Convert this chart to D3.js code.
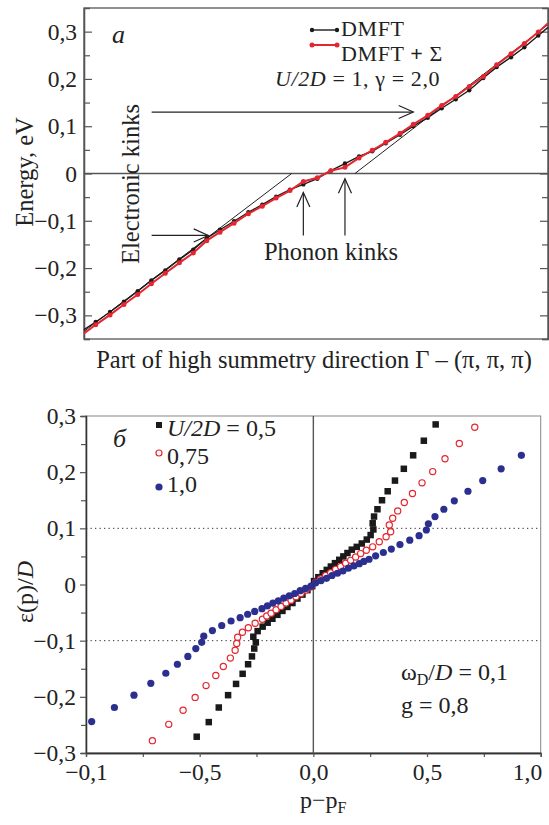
<!DOCTYPE html>
<html>
<head>
<meta charset="utf-8">
<script src="https://cdn.jsdelivr.net/npm/d3@7"></script>
<style>
body { margin: 0; background: #fff; }
text { font-family: "Liberation Serif", "Times New Roman", serif; fill: #222; }
</style>
</head>
<body>
<script>
// panel a: dispersion along the symmetry direction
var kX = [0, 0.83, 1.85, 2.84, 3.82, 4.79, 5.78, 6.78, 7.77, 8.73, 9.67, 10.67, 11.69, 12.68, 13.66, 14.65, 15.6, 16.59, 17.55, 18.56, 19.56, 20.5, 21.46, 22.48, 23.42, 24.45, 25.44, 26.44, 27.4, 28.4, 29.35, 30.37, 31.32, 32.31, 33];
var redE = [-0.338, -0.320, -0.299, -0.277, -0.256, -0.233, -0.211, -0.189, -0.168, -0.142, -0.124, -0.105, -0.085, -0.069, -0.052, -0.036, -0.017, -0.009, 0.006, 0.013, 0.033, 0.049, 0.066, 0.085, 0.104, 0.123, 0.144, 0.163, 0.184, 0.205, 0.230, 0.253, 0.275, 0.299, 0.318];
var blackE = [-0.330, -0.314, -0.293, -0.271, -0.249, -0.226, -0.205, -0.182, -0.161, -0.137, -0.119, -0.101, -0.082, -0.066, -0.049, -0.034, -0.023, -0.011, 0.006, 0.021, 0.036, 0.047, 0.064, 0.082, 0.100, 0.118, 0.138, 0.157, 0.176, 0.202, 0.225, 0.246, 0.267, 0.292, 0.309];
// straight guide lines (bare electron band)
var guide1 = [[0, -0.334], [14.77, 0]];
var guide2 = [[19.27, 0], [33, 0.315]];
var topTicks = [-0.3, -0.2, -0.1, 0, 0.1, 0.2, 0.3];
var topTickLabels = ["\u22120,3", "\u22120,2", "\u22120,1", "0", "0,1", "0,2", "0,3"];

// panel b: renormalized dispersion for three U/2D values
var sqX = [-0.513, -0.460, -0.416, -0.375, -0.340, -0.311, -0.287, -0.270, -0.260, -0.253, -0.264, -0.245, -0.223, -0.201, -0.180, -0.158, -0.136, -0.114, -0.092, -0.070, -0.048, -0.026, -0.005,
  0.003, 0.022, 0.041, 0.059, 0.077, 0.095, 0.114, 0.132, 0.150, 0.169, 0.191, 0.213, 0.235, 0.252, 0.264, 0.261, 0.267, 0.282, 0.302, 0.327, 0.359, 0.398, 0.439, 0.486, 0.538];
var sqY = [-0.271, -0.245, -0.219, -0.197, -0.177, -0.159, -0.142, -0.128, -0.114, -0.103, -0.093, -0.083, -0.075, -0.068, -0.061, -0.054, -0.047, -0.040, -0.033, -0.025, -0.018, -0.010, -0.003,
  0.006, 0.013, 0.020, 0.026, 0.032, 0.038, 0.044, 0.050, 0.056, 0.062, 0.067, 0.073, 0.080, 0.088, 0.098, 0.109, 0.121, 0.134, 0.150, 0.166, 0.185, 0.206, 0.230, 0.256, 0.285];
var ciX = [-0.708, -0.636, -0.573, -0.520, -0.472, -0.429, -0.396, -0.365, -0.344, -0.337, -0.333, -0.312, -0.286, -0.256, -0.224, -0.205, -0.186, -0.164, -0.142, -0.120, -0.098, -0.076, -0.054, -0.032, -0.010,
  0.010, 0.032, 0.054, 0.076, 0.098, 0.120, 0.142, 0.164, 0.186, 0.208, 0.233, 0.261, 0.290, 0.320, 0.340, 0.334, 0.349, 0.371, 0.400, 0.436, 0.478, 0.525, 0.579, 0.642, 0.710];
var ciY = [-0.278, -0.249, -0.224, -0.201, -0.180, -0.162, -0.146, -0.131, -0.117, -0.105, -0.094, -0.085, -0.077, -0.069, -0.062, -0.056, -0.051, -0.045, -0.039, -0.033, -0.028, -0.022, -0.016, -0.010, -0.004,
  0.004, 0.010, 0.016, 0.021, 0.027, 0.032, 0.038, 0.043, 0.049, 0.055, 0.061, 0.067, 0.076, 0.085, 0.094, 0.106, 0.118, 0.131, 0.146, 0.162, 0.181, 0.201, 0.224, 0.251, 0.280];
var dotX = [-0.975, -0.875, -0.789, -0.715, -0.649, -0.598, -0.552, -0.517, -0.491, -0.482, -0.444, -0.403, -0.362, -0.322, -0.289, -0.258, -0.226, -0.202, -0.178, -0.154, -0.130, -0.106, -0.082, -0.058, -0.034, -0.010,
  0.010, 0.034, 0.058, 0.082, 0.106, 0.130, 0.154, 0.178, 0.202, 0.222, 0.245, 0.274, 0.308, 0.343, 0.381, 0.424, 0.465, 0.497, 0.506, 0.535, 0.574, 0.620, 0.680, 0.745, 0.826, 0.915];
var dotY = [-0.244, -0.219, -0.197, -0.176, -0.158, -0.142, -0.128, -0.114, -0.103, -0.092, -0.082, -0.073, -0.065, -0.059, -0.053, -0.048, -0.043, -0.038, -0.033, -0.029, -0.024, -0.020, -0.016, -0.011, -0.007, -0.003,
  0.003, 0.007, 0.011, 0.016, 0.020, 0.024, 0.029, 0.033, 0.037, 0.041, 0.045, 0.051, 0.057, 0.063, 0.071, 0.079, 0.087, 0.097, 0.108, 0.121, 0.134, 0.149, 0.166, 0.185, 0.206, 0.230];
var botYTicks = [-0.3, -0.2, -0.1, 0, 0.1, 0.2, 0.3];
var botYLabels = ["\u22120,3", "\u22120,2", "\u22120,1", "0", "0,1", "0,2", "0,3"];
var botXTicks = [-1, -0.5, 0, 0.5, 1];
var botXLabels = ["\u22120,1", "\u22120,5", "0,0", "0,5", "1,0"];

var frameColor = "#555";
var redColor = "#e3262f";
var blueColor = "#2b2f8f";
var fs = "24.5px";
var legFs = "22px";

var svg = d3.select("body").append("svg")
  .attr("width", 549)
  .attr("height", 825);

function zip(xs, ys) {
  return xs.map(function(x, i) { return [x, ys[i]]; });
}

function styleAxis(g) {
  g.select(".domain").attr("stroke", frameColor).attr("stroke-width", 1.3);
  g.selectAll(".tick line").attr("stroke", frameColor).attr("stroke-width", 1.2);
  g.selectAll(".tick text").style("font-size", "23.5px").attr("fill", "#222")
    .style("font-family", "Liberation Serif");
}

// ================= panel a =================
var xA = d3.scaleLinear().domain([0, 33]).range([84, 548]);
var yA = d3.scaleLinear().domain([-0.35, 0.35]).range([339, 8]);

var gA = svg.append("g");

// frame
gA.append("rect")
  .attr("x", xA(0)).attr("y", yA(0.35))
  .attr("width", xA(33) - xA(0)).attr("height", yA(-0.35) - yA(0.35))
  .attr("fill", "none").attr("stroke", frameColor).attr("stroke-width", 1.3);

// minor ticks (inward)
var minorA = [-0.35, -0.25, -0.15, -0.05, 0.05, 0.15, 0.25];
gA.append("g").attr("transform", "translate(" + xA(0) + ",0)")
  .call(d3.axisLeft(yA).tickValues(minorA).tickSize(-6).tickFormat(""))
  .call(styleAxis);
gA.append("g").attr("transform", "translate(" + xA(33) + ",0)")
  .call(d3.axisRight(yA).tickValues(minorA).tickSize(-6).tickFormat(""))
  .call(styleAxis);
// major ticks
gA.append("g").attr("transform", "translate(" + xA(0) + ",0)")
  .call(d3.axisLeft(yA).tickValues(topTicks).tickSizeInner(-8).tickSizeOuter(0).tickPadding(7)
    .tickFormat(function(d, i) { return topTickLabels[i]; }))
  .call(styleAxis);
gA.append("g").attr("transform", "translate(" + xA(33) + ",0)")
  .call(d3.axisRight(yA).tickValues(topTicks).tickSizeInner(-8).tickSizeOuter(0).tickFormat(""))
  .call(styleAxis);

// zero line
gA.append("line")
  .attr("x1", xA(0)).attr("x2", xA(33))
  .attr("y1", yA(0)).attr("y2", yA(0))
  .attr("stroke", frameColor).attr("stroke-width", 1.3);

var lineA = d3.line().x(function(d) { return xA(d[0]); }).y(function(d) { return yA(d[1]); });

// guide lines
[guide1, guide2].forEach(function(g) {
  gA.append("path").attr("d", lineA(g))
    .attr("fill", "none").attr("stroke", "#222").attr("stroke-width", 1);
});

var blackPts = zip(kX, blackE);
var redPts = zip(kX, redE);

gA.append("path").attr("d", lineA(blackPts))
  .attr("fill", "none").attr("stroke", "#1a1a1a").attr("stroke-width", 1.4);
gA.selectAll(".bdot").data(blackPts.slice(1, -1)).enter().append("circle")
  .attr("class", "bdot")
  .attr("cx", function(d) { return xA(d[0]); })
  .attr("cy", function(d) { return yA(d[1]); })
  .attr("r", 2.2).attr("fill", "#1a1a1a");

gA.append("path").attr("d", lineA(redPts))
  .attr("fill", "none").attr("stroke", redColor).attr("stroke-width", 2);
gA.selectAll(".rdot").data(redPts.slice(1, -1)).enter().append("circle")
  .attr("class", "rdot")
  .attr("cx", function(d) { return xA(d[0]); })
  .attr("cy", function(d) { return yA(d[1]); })
  .attr("r", 2.5).attr("fill", redColor);

// arrows
function arrow(g, x1, y1, x2, y2) {
  var ang = Math.atan2(y2 - y1, x2 - x1), len = 16, half = 0.42;
  g.append("line").attr("x1", x1).attr("y1", y1).attr("x2", x2).attr("y2", y2)
    .attr("stroke", "#222").attr("stroke-width", 1.2);
  g.append("path")
    .attr("d", "M" + (x2 - len * Math.cos(ang - half)) + "," + (y2 - len * Math.sin(ang - half)) +
      "L" + x2 + "," + y2 +
      "L" + (x2 - len * Math.cos(ang + half)) + "," + (y2 - len * Math.sin(ang + half)))
    .attr("fill", "none").attr("stroke", "#222").attr("stroke-width", 1.2);
}
arrow(gA, xA(4.81), yA(0.13), xA(23.42), yA(0.13));
arrow(gA, xA(4.81), yA(-0.131), xA(8.84), yA(-0.131));
arrow(gA, xA(15.6), yA(-0.131), xA(15.6), yA(-0.040));
arrow(gA, xA(18.56), yA(-0.131), xA(18.56), yA(-0.011));

// texts
gA.append("text").attr("x", 112).attr("y", 43)
  .style("font-size", "26px").style("font-style", "italic").text("а");

// legend
var legA = gA.append("g");
[[30, "#1a1a1a", 1.4, 2.2], [45, redColor, 2, 2.5]].forEach(function(s) {
  legA.append("line").attr("x1", 312).attr("x2", 337).attr("y1", s[0]).attr("y2", s[0])
    .attr("stroke", s[1]).attr("stroke-width", s[2]);
  [312, 337].forEach(function(cx) {
    legA.append("circle").attr("cx", cx).attr("cy", s[0]).attr("r", s[3]).attr("fill", s[1]);
  });
});
legA.append("text").attr("x", 341).attr("y", 36).style("font-size", legFs)
  .style("letter-spacing", "0.6px").text("DMFT");
var t2 = legA.append("text").attr("x", 341).attr("y", 61).style("font-size", legFs)
  .style("letter-spacing", "0.6px");
t2.append("tspan").text("DMFT ");
t2.append("tspan").style("font-weight", "bold").text("+");
t2.append("tspan").text(" \u03a3");
var t3 = legA.append("text").attr("x", 275).attr("y", 86).style("font-size", legFs)
  .style("letter-spacing", "0.6px");
t3.append("tspan").style("font-style", "italic").text("U/2D");
t3.append("tspan").text(" = 1, \u03b3 = 2,0");

gA.append("text")
  .attr("transform", "translate(139,184) rotate(-90)")
  .attr("text-anchor", "middle").style("font-size", fs).text("Electronic kinks");
gA.append("text").attr("x", 331).attr("y", 260)
  .attr("text-anchor", "middle").style("font-size", fs).text("Phonon kinks");

gA.append("text").attr("x", 314).attr("y", 368)
  .attr("text-anchor", "middle").style("font-size", fs)
  .text("Part of high summetry direction \u0393 \u2013 (\u03c0, \u03c0, \u03c0)");
gA.append("text")
  .attr("transform", "translate(33,172) rotate(-90)")
  .attr("text-anchor", "middle").style("font-size", fs).text("Energy, eV");

// ================= panel b =================
var xB = d3.scaleLinear().domain([-1, 1]).range([86, 540.7]);
var yB = d3.scaleLinear().domain([-0.3, 0.3]).range([753, 416]);
var gB = svg.append("g");

gB.append("rect")
  .attr("x", xB(-1)).attr("y", yB(0.3))
  .attr("width", xB(1) - xB(-1)).attr("height", yB(-0.3) - yB(0.3))
  .attr("fill", "none").attr("stroke", "#888").attr("stroke-width", 1);

gB.append("g").attr("transform", "translate(" + xB(-1) + ",0)")
  .call(d3.axisLeft(yB).tickValues([-0.25, -0.15, -0.05, 0.05, 0.15, 0.25]).tickSize(5).tickFormat(""))
  .call(styleAxis);
gB.append("g").attr("transform", "translate(" + xB(-1) + ",0)")
  .call(d3.axisLeft(yB).tickValues(botYTicks).tickSizeInner(6).tickSizeOuter(0).tickPadding(4)
    .tickFormat(function(d, i) { return botYLabels[i]; }))
  .call(styleAxis);
gB.append("g").attr("transform", "translate(0," + yB(-0.3) + ")")
  .call(d3.axisBottom(xB).tickValues([-0.75, -0.25, 0.25, 0.75]).tickSize(4).tickFormat(""))
  .call(styleAxis);
var xAxB = gB.append("g").attr("transform", "translate(0," + yB(-0.3) + ")")
  .call(d3.axisBottom(xB).tickValues(botXTicks).tickSizeInner(4).tickSizeOuter(0).tickPadding(6)
    .tickFormat(function(d, i) { return botXLabels[i]; }))
  .call(styleAxis);
xAxB.selectAll(".tick text").filter(function(d) { return d === 1; })
  .attr("text-anchor", "end").attr("dx", 1);
gB.selectAll(".domain").attr("stroke", "#333");

// guide lines
gB.append("line").attr("x1", xB(0)).attr("x2", xB(0)).attr("y1", yB(0.3)).attr("y2", yB(-0.3))
  .attr("stroke", frameColor).attr("stroke-width", 1.4);
[0.1, -0.1].forEach(function(v) {
  gB.append("line").attr("x1", xB(-1)).attr("x2", xB(1)).attr("y1", yB(v)).attr("y2", yB(v))
    .attr("stroke", "#333").attr("stroke-width", 1).attr("stroke-dasharray", "1.3,3.2");
});

var sq = 6.5;
gB.selectAll(".sq").data(zip(sqX, sqY)).enter().append("rect")
  .attr("class", "sq")
  .attr("x", function(d) { return xB(d[0]) - sq / 2; })
  .attr("y", function(d) { return yB(d[1]) - sq / 2; })
  .attr("width", sq).attr("height", sq).attr("fill", "#1a1a1a");
gB.selectAll(".ci").data(zip(ciX, ciY)).enter().append("circle")
  .attr("class", "ci")
  .attr("cx", function(d) { return xB(d[0]); })
  .attr("cy", function(d) { return yB(d[1]); })
  .attr("r", 3.1).attr("fill", "#fff").attr("stroke", redColor).attr("stroke-width", 1.2);
gB.selectAll(".dt").data(zip(dotX, dotY)).enter().append("circle")
  .attr("class", "dt")
  .attr("cx", function(d) { return xB(d[0]); })
  .attr("cy", function(d) { return yB(d[1]); })
  .attr("r", 3.6).attr("fill", blueColor);

// legend
gB.append("text").attr("x", 113).attr("y", 447)
  .style("font-size", "26px").style("font-style", "italic").text("б");
gB.append("rect").attr("x", 156).attr("y", 422).attr("width", 6).attr("height", 6).attr("fill", "#1a1a1a");
gB.append("circle").attr("cx", 159).attr("cy", 453).attr("r", 3).attr("fill", "#fff")
  .attr("stroke", redColor).attr("stroke-width", 1.2);
gB.append("circle").attr("cx", 159).attr("cy", 487).attr("r", 3.6).attr("fill", blueColor);
var l1 = gB.append("text").attr("x", 167).attr("y", 436).style("font-size", "24px");
l1.append("tspan").style("font-style", "italic").text("U/2D");
l1.append("tspan").text(" = 0,5");
gB.append("text").attr("x", 167).attr("y", 464).style("font-size", "24px").text("0,75");
gB.append("text").attr("x", 167).attr("y", 492).style("font-size", "24px").text("1,0");

var w1 = gB.append("text").attr("x", 401).attr("y", 680).style("font-size", "24px");
w1.append("tspan").text("\u03c9");
w1.append("tspan").attr("dy", 5).style("font-size", "16px").text("D");
w1.append("tspan").attr("dy", -5).text("/");
w1.append("tspan").style("font-style", "italic").text("D");
w1.append("tspan").text(" = 0,1");
gB.append("text").attr("x", 401).attr("y", 713).style("font-size", "24px").text("g = 0,8");

var xl = gB.append("text").attr("x", 300).attr("y", 808).style("font-size", "24px");
xl.append("tspan").text("p\u2212p");
xl.append("tspan").attr("dy", 5).style("font-size", "16px").text("F");

var yl = gB.append("text")
  .attr("transform", "translate(33,592) rotate(-90)")
  .attr("text-anchor", "middle").style("font-size", "24px");
yl.append("tspan").text("\u03b5(p)/");
yl.append("tspan").style("font-style", "italic").text("D");
</script>
</body>
</html>
